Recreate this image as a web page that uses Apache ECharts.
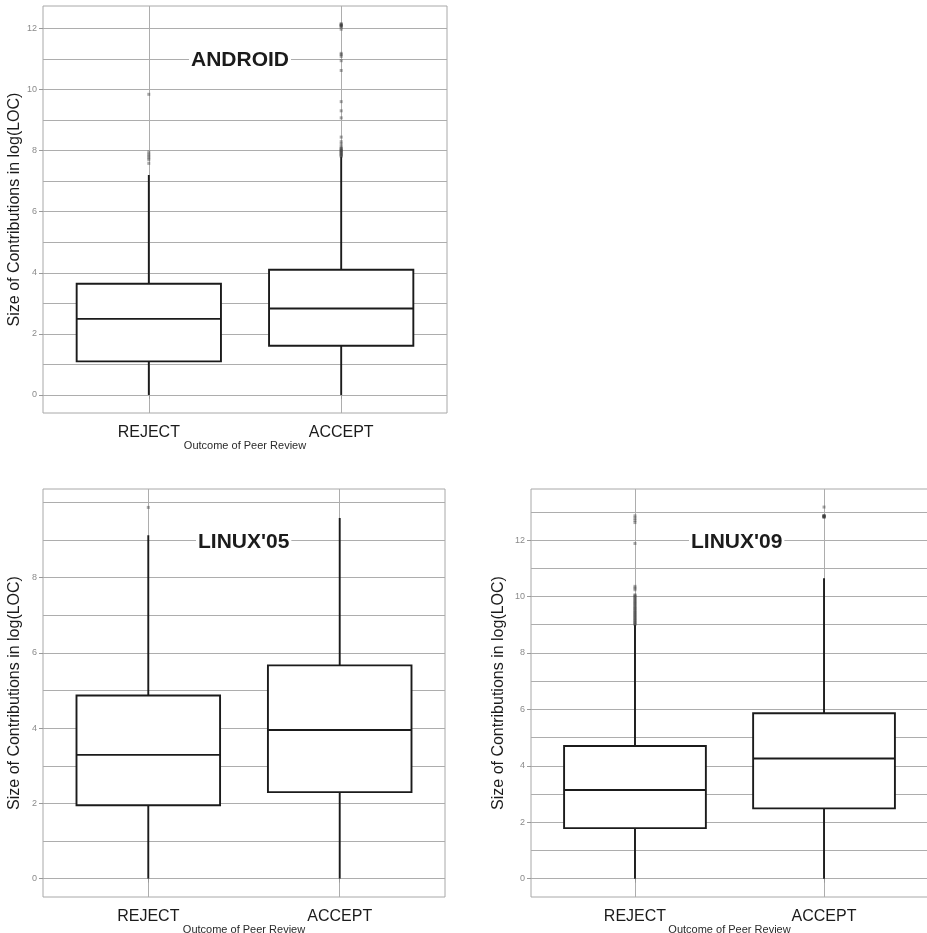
<!DOCTYPE html>
<html>
<head>
<meta charset="utf-8">
<title>Size of contributions by peer review outcome</title>
<script src="https://cdn.jsdelivr.net/npm/echarts@6/dist/echarts.min.js"></script>
<style>
  html, body { margin: 0; padding: 0; background: #fff; }
  #chart { width: 927px; height: 933px; }
</style>
</head>
<body>
<div id="chart"></div>
<script>
/* box plots: outcome of peer review vs size of contribution, log(LOC) */
var categories = ['REJECT', 'ACCEPT'];
var panelNames = ['ANDROID', "LINUX'05", "LINUX'09"];

// [lower whisker, Q1, median, Q3, upper whisker]
var androidReject = [0, 1.10, 2.49, 3.64, 7.20];
var androidAccept = [0, 1.61, 2.83, 4.10, 7.80];
var linux05Reject = [0, 1.95, 3.29, 4.87, 9.13];
var linux05Accept = [0, 2.30, 3.95, 5.67, 9.59];
var linux09Reject = [0, 1.79, 3.14, 4.70, 9.00];
var linux09Accept = [0, 2.49, 4.26, 5.86, 10.65];

// outliers
var androidRejectOut = [7.58, 7.70, 7.76, 7.82, 7.88, 7.95, 9.84];
var androidAcceptOut = [7.81, 7.84, 7.86, 7.89, 7.92, 7.94, 7.97, 8.00, 8.02, 8.05, 8.08, 8.12,
  8.21, 8.29, 8.44, 9.07, 9.30, 9.60, 10.62, 10.94, 11.08, 11.14, 11.18,
  11.97, 12.05, 12.07, 12.09, 12.11, 12.13, 12.15];
var linux05RejectOut = [9.87];
var linux05AcceptOut = [];
var linux09RejectOut = [9.01, 9.04, 9.08, 9.11, 9.15, 9.19, 9.22, 9.26, 9.30, 9.33, 9.37, 9.41,
  9.44, 9.48, 9.52, 9.56, 9.59, 9.63, 9.67, 9.71, 9.75, 9.79, 9.83, 9.87, 9.91, 9.95, 9.99, 10.03, 10.06,
  10.24, 10.30, 10.36, 11.88, 12.62, 12.70, 12.78, 12.86];
var linux09AcceptOut = [12.81, 12.82, 12.83, 12.84, 12.85, 12.86, 12.87, 13.17];

// y axis ranges and tick labels
var yRanges = [[-0.59, 12.73], [-0.49, 10.36], [-0.65, 13.81]];
var yLabels = [[0, 2, 4, 6, 8, 10, 12], [0, 2, 4, 6, 8], [0, 2, 4, 6, 8, 10, 12]];
var yLines = [[0, 1, 2, 3, 4, 5, 6, 7, 8, 9, 10, 11, 12],
  [0, 1, 2, 3, 4, 5, 6, 7, 8, 9, 10],
  [0, 1, 2, 3, 4, 5, 6, 7, 8, 9, 10, 11, 12, 13]];
var xRange = [0.45, 2.55];

var boxes = [[androidReject, androidAccept], [linux05Reject, linux05Accept], [linux09Reject, linux09Accept]];
var outliers = [[androidRejectOut, androidAcceptOut], [linux05RejectOut, linux05AcceptOut], [linux09RejectOut, linux09AcceptOut]];

var FONT = '"Liberation Sans", Arial, Helvetica, sans-serif';
var INK = '#1b1b1b';
var GRID = '#adadad';
var BOX_W = 0.75;

var layout = [
  {grid: {left: 43, top: 6, width: 404, height: 407}, title: {left: 189, top: 48}, nameGap: 20},
  {grid: {left: 43, top: 489, width: 402, height: 408}, title: {left: 196, top: 530}, nameGap: 20},
  {grid: {left: 531, top: 489, width: 397, height: 408}, title: {left: 689, top: 530}, nameGap: 24}
];

function renderBox(params, api){
  var x = api.value(0);
  var lo = api.coord([x, api.value(1)]);
  var q1 = api.coord([x, api.value(2)]);
  var md = api.coord([x, api.value(3)]);
  var q3 = api.coord([x, api.value(4)]);
  var hi = api.coord([x, api.value(5)]);
  var half = api.size([BOX_W, 0])[0] / 2;
  var line = {stroke: INK, lineWidth: 1.9};
  return {
    type: 'group',
    children: [
      {type: 'line', shape: {x1: lo[0], y1: lo[1], x2: q1[0], y2: q1[1]}, style: line},
      {type: 'line', shape: {x1: q3[0], y1: q3[1], x2: hi[0], y2: hi[1]}, style: line},
      {type: 'rect', shape: {x: q1[0] - half, y: q3[1], width: half * 2, height: q1[1] - q3[1]},
        style: {fill: '#fff', stroke: INK, lineWidth: 1.9}},
      {type: 'line', shape: {x1: md[0] - half, y1: md[1], x2: md[0] + half, y2: md[1]}, style: line}
    ]
  };
}

var option = {
  backgroundColor: '#fff',
  animation: false,
  textStyle: {fontFamily: FONT},
  title: [], grid: [], xAxis: [], yAxis: [], series: []
};

panelNames.forEach(function (name, i){
  var L = layout[i];
  option.title.push({
    text: name, left: L.title.left, top: L.title.top, padding: [2, 2],
    backgroundColor: '#fff',
    textStyle: {fontFamily: FONT, fontSize: 21, fontWeight: 'bold', color: INK}
  });
  option.grid.push({
    left: L.grid.left, top: L.grid.top, width: L.grid.width, height: L.grid.height,
    show: true, borderColor: '#a8a8a8', borderWidth: 1, backgroundColor: 'transparent',
    containLabel: false, outerBoundsMode: 'none'
  });
  option.xAxis.push({
    type: 'value', gridIndex: i, min: xRange[0], max: xRange[1],
    name: 'Outcome of Peer Review', nameLocation: 'middle', nameGap: 27, nameMoveOverlap: false,
    nameTextStyle: {fontFamily: FONT, fontSize: 11, color: '#2a2a2a'},
    axisLine: {show: false},
    axisTick: {show: true, length: 4, customValues: [1, 2], lineStyle: {color: '#999'}},
    axisLabel: {customValues: [1, 2], margin: 12, fontSize: 16, color: INK, fontFamily: FONT,
      formatter: function (v){ return categories[Math.round(v) - 1] || ''; }},
    splitLine: {show: true, lineStyle: {color: GRID, width: 1}}
  });
  // main y axis: grid lines at every integer, labels on even values
  option.yAxis.push({
    type: 'value', gridIndex: i, position: 'left', min: yRanges[i][0], max: yRanges[i][1],
    name: 'Size of Contributions in log(LOC)', nameLocation: 'middle', nameGap: L.nameGap,
    nameMoveOverlap: false,
    nameTextStyle: {fontFamily: FONT, fontSize: 16, color: INK},
    axisLine: {show: false},
    axisTick: {show: false, customValues: yLines[i]},
    axisLabel: {customValues: yLabels[i], margin: 6, fontSize: 9, color: '#8a8a8a', fontFamily: FONT},
    splitLine: {show: true, lineStyle: {color: GRID, width: 1}}
  });
  // second y axis only for the tick marks on labelled values
  option.yAxis.push({
    type: 'value', gridIndex: i, position: 'left', offset: 0, min: yRanges[i][0], max: yRanges[i][1],
    axisLine: {show: false},
    axisTick: {show: true, length: 4, customValues: yLabels[i], lineStyle: {color: '#999'}},
    axisLabel: {show: false},
    splitLine: {show: false}
  });

  var boxData = boxes[i].map(function (b, k){ return [k + 1].concat(b); });
  option.series.push({
    type: 'custom', xAxisIndex: i, yAxisIndex: i * 2,
    renderItem: renderBox, data: boxData, z: 3,
    encode: {x: 0, y: [1, 2, 3, 4, 5]}
  });

  var outData = [];
  outliers[i].forEach(function (list, k){
    list.forEach(function (v){ outData.push([k + 1, v]); });
  });
  option.series.push({
    type: 'scatter', xAxisIndex: i, yAxisIndex: i * 2, data: outData, z: 4,
    symbol: 'rect', symbolSize: 3, silent: true,
    itemStyle: {color: 'rgba(60,60,60,0.55)'}
  });
});

var myChart = echarts.init(document.getElementById('chart'));
myChart.setOption(option);
</script>
</body>
</html>
